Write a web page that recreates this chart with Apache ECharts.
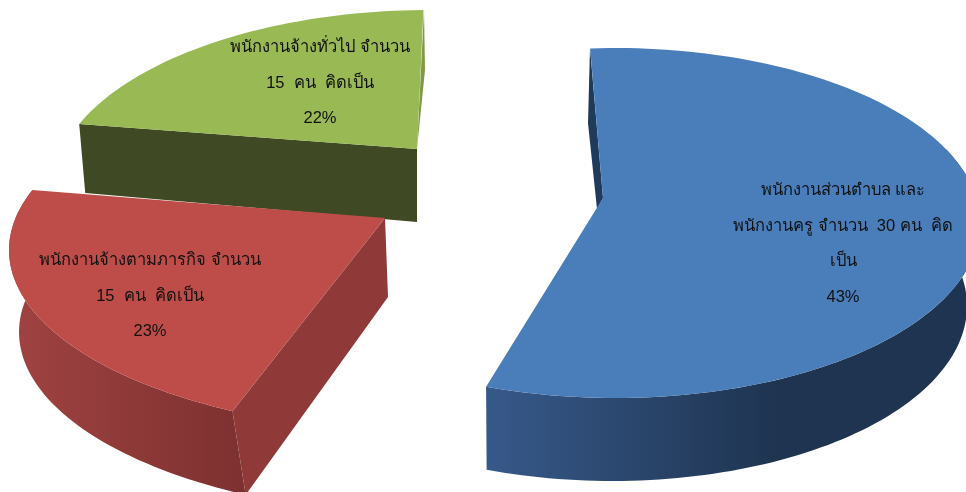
<!DOCTYPE html>
<html>
<head>
<meta charset="utf-8">
<style>html,body{margin:0;padding:0;background:#fff}#chart{width:966px;height:492px}</style>
<script src="https://cdn.jsdelivr.net/npm/echarts@6/dist/echarts.min.js"></script>
</head>
<body>
<div id="chart"></div>
<script>
// Staff share per group, back slice first so nearer slices paint over it.
const categories = ['พนักงานจ้างทั่วไป', 'พนักงานจ้างตามภารกิจ', 'พนักงานส่วนตำบลและพนักงานครู'];
const shares = [22, 23, 43];
const labelLines = [
  ['พนักงานจ้างทั่วไป จำนวน', '15  คน  คิดเป็น'],
  ['พนักงานจ้างตามภารกิจ จำนวน', '15  คน  คิดเป็น'],
  ['พนักงานส่วนตำบล และ', 'พนักงานครู จำนวน  30 คน  คิด', 'เป็น']
];

// Projected geometry of each exploded slice. Angles run clockwise from 12 o'clock.
// stretch is the foreshortening of the tilted view applied to the value's sweep.
const slices = [
  { apex: [417, 149], top: [430, 190, 377, 180], bottom: [432, 262, 372, 178],
    start: -68.5, stretch: 0.75, wallFrom: null, drop: 73,
    face: '#98b954', wallStops: ['#3f4a24', '#3f4a24'], side: '#3f4a24',
    sliver: [[424, 10], [425, 70], [417, 149]], sliverFill: '#7f9a45',
    label: [320, 47] },
  { apex: [385, 218], top: [434, 250, 425, 183], bottom: [450, 332, 431, 185],
    start: -151.7, stretch: 0.859, wallFrom: null, drop: 79,
    face: '#be4d4a', wallStops: ['#a04342', '#7d3130'], side: '#8f3938',
    label: [150, 260] },
  { apex: [603, 198], top: [615, 223, 365, 175], bottom: [612, 306, 355, 175],
    start: -3.9, stretch: 1.163, wallFrom: 65, drop: 84,
    face: '#4a7ebb', wallStops: ['#37598a', '#1e3450'], side: '#1f3a5a',
    sliver: [[590, 48], [588, 123], [597, 209], [603, 198]], sliverFill: '#1f3a5a',
    label: [843, 190] }
];

const total = shares.reduce((a, b) => a + b, 0);

function onEllipse(e, deg) {
  const r = deg * Math.PI / 180;
  return [e[0] + e[2] * Math.sin(r), e[1] - e[3] * Math.cos(r)];
}

function arc(e, from, to) {
  const pts = [];
  const n = Math.ceil(Math.abs(to - from) / 1.5);
  for (let i = 0; i <= n; i++) pts.push(onEllipse(e, from + (to - from) * i / n));
  return pts;
}

function renderSlice(params, api) {
  const i = api.value(0);
  const s = slices[i];
  const sweep = api.value(1) / total * 360 * s.stretch;
  const end = s.start + sweep;
  const children = [];
  const topArc = arc(s.top, s.start, end);
  const first = topArc[0];

  if (i === 0) {
    // Back slice: only the cut face towards the viewer shows.
    children.push({ type: 'polygon', shape: { points: [first, s.apex, [s.apex[0], s.apex[1] + s.drop], [first[0] + 6, first[1] + 69]] },
      style: { fill: s.side } });
  } else {
    // Rim of the slice, shaded along its width.
    const from = s.wallFrom === null ? s.start : s.wallFrom;
    const wallTop = arc(s.top, from, end);
    const wallBottom = arc(s.bottom, from, end).reverse();
    const fill = i === 1
      ? new echarts.graphic.LinearGradient(9, 0, 240, 0, [
          { offset: 0, color: s.wallStops[0] }, { offset: 1, color: s.wallStops[1] }], true)
      : new echarts.graphic.LinearGradient(486, 0, 780, 0, [
          { offset: 0, color: s.wallStops[0] }, { offset: 1, color: s.wallStops[1] }], true);
    children.push({ type: 'polygon', shape: { points: wallTop.concat(wallBottom) }, style: { fill } });
    if (i === 1) {
      // Right-hand cut face of the front-left slice.
      const bEnd = onEllipse(s.bottom, s.start);
      children.push({ type: 'polygon', shape: { points: [first, s.apex, [s.apex[0] + 3, s.apex[1] + s.drop], bEnd] },
        style: { fill: s.side } });
    }
  }
  if (s.sliver) {
    children.push({ type: 'polygon', shape: { points: s.sliver }, style: { fill: s.sliverFill } });
  }
  children.push({ type: 'polygon', shape: { points: topArc.concat([s.apex]) }, style: { fill: s.face } });

  const text = labelLines[i].concat([api.value(1) + '%']).join('\n');
  children.push({
    type: 'text',
    x: s.label[0], y: s.label[1] - 17,
    style: {
      text, fill: '#111111', align: 'center', verticalAlign: 'top',
      font: '16.5px "Liberation Sans", "Noto Sans", sans-serif', lineHeight: 35.5
    }
  });
  return { type: 'group', children };
}

const chart = echarts.init(document.getElementById('chart'), null, { renderer: 'canvas' });
chart.setOption({
  animation: false,
  backgroundColor: '#ffffff',
  series: [{
    type: 'custom',
    coordinateSystem: 'none',
    silent: true,
    renderItem: renderSlice,
    encode: { itemName: 2 },
    data: shares.map((v, i) => [i, v, categories[i]])
  }]
});
</script>
</body>
</html>
